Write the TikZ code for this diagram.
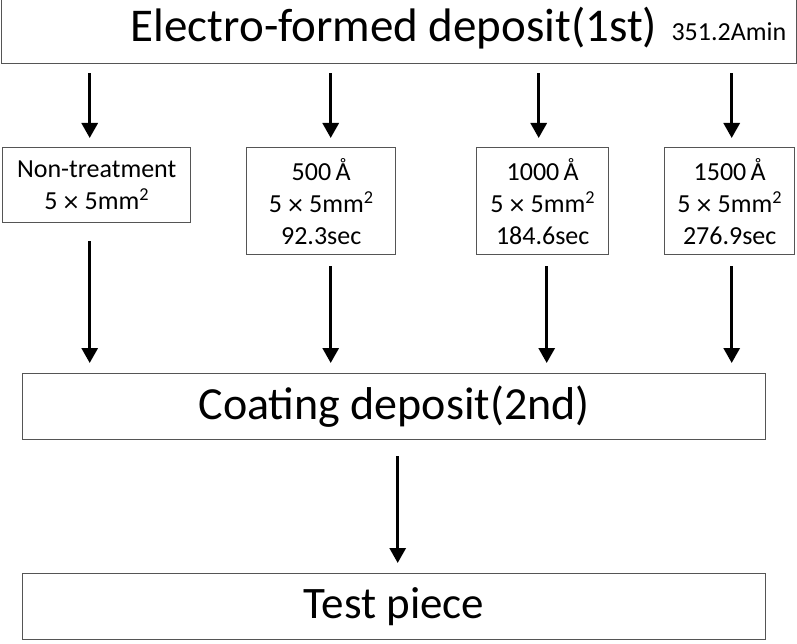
\documentclass[tikz,border=0pt]{standalone}
\usepackage{fontspec}
\setmainfont{Carlito}
\newfontfamily\symfont{DejaVu Sans}
\usetikzlibrary{arrows.meta, calc}
\definecolor{edge}{RGB}{85,85,85}
\newcommand{\bytimes}{\,{\symfont\fontsize{22}{22}\selectfont ×}\,}
\newcommand{\sqmm}{5\bytimes 5mm\textsuperscript{2}}

\begin{document}
\begin{tikzpicture}[x=1pt, y=-1pt,
  box/.style={draw=edge, line width=1.4pt, inner sep=0pt, anchor=north west},
  small/.style={box, align=center, font=\fontsize{26}{32}\selectfont},
  arr/.style={line width=3pt, -{Triangle[length=15pt,width=16pt]}}]
  \useasboundingbox (0,0) rectangle (797,644);

  % ---------- 1st deposit ----------
  \node[box, minimum width=795pt, minimum height=66pt] (first) at (0.7,-3) {};
  \node[anchor=base, font=\fontsize{47}{52}\selectfont] (firstlbl) at (394,42) {Electro-formed deposit(1st)};
  \node[anchor=base west, font=\fontsize{26}{30}\selectfont] (charge) at (668,41) {351.2Amin};

  % ---------- treatment pieces ----------
  \node[small, minimum width=188pt, minimum height=75pt] (nt) at (2,147)
    {Non-treatment\\\sqmm};
  \node[small, minimum width=149pt, minimum height=107pt] (t500) at (246,147)
    {500\,Å\\\sqmm\\92.3sec};
  \node[small, minimum width=132pt, minimum height=107pt] (t1000) at (476,147)
    {1000\,Å\\\sqmm\\184.6sec};
  \node[small, minimum width=130pt, minimum height=107pt] (t1500) at (664,147)
    {1500\,Å\\\sqmm\\276.9sec};

  % ---------- 2nd deposit / result ----------
  \node[box, minimum width=743pt, minimum height=66pt,
        font=\fontsize{46}{50}\selectfont] (second) at (22,373) {Coating deposit(2nd)};
  \node[box, minimum width=743pt, minimum height=66pt,
        font=\fontsize{45}{48}\selectfont] (piece) at (22,573) {Test piece};

  % ---------- arrows ----------
  \draw[arr] ($(nt.north |- first.south)+(-7,9)$) -- ($(nt.north)+(-7,-9)$);
  \draw[arr] ($(t500.north |- first.south)+(9.5,9)$) -- ($(t500.north)+(9.5,-9)$);
  \draw[arr] ($(t1000.north |- first.south)+(-4,9)$) -- ($(t1000.north)+(-4,-9)$);
  \draw[arr] ($(t1500.north |- first.south)+(2,9)$) -- ($(t1500.north)+(2,-9)$);

  \draw[arr] ($(nt.south)+(-7,18)$) -- ($(nt.south |- second.north)+(-7,-10)$);
  \draw[arr] ($(t500.south)+(9.5,11)$) -- ($(t500.south |- second.north)+(9.5,-10)$);
  \draw[arr] ($(t1000.south)+(4,11)$) -- ($(t1000.south |- second.north)+(4,-10)$);
  \draw[arr] ($(t1500.south)+(2,11)$) -- ($(t1500.south |- second.north)+(2,-10)$);

  \draw[arr] ($(second.south)+(3.5,16)$) -- ($(piece.north)+(3.5,-10)$);
\end{tikzpicture}
\end{document}
